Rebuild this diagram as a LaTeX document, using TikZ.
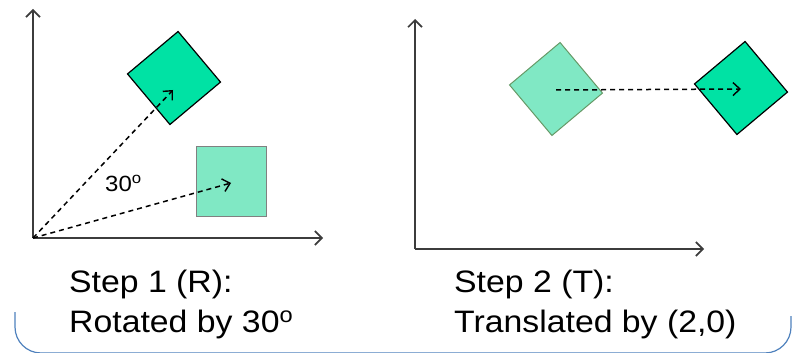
\documentclass[tikz,border=0pt]{standalone}
\usepackage{fontspec}
\setmainfont{Liberation Sans}
\usetikzlibrary{arrows.meta}

\definecolor{solidgreen}{RGB}{0,226,164}
\definecolor{palegreen}{RGB}{128,232,196}
\definecolor{axisgray}{RGB}{60,60,60}
\definecolor{frameblue}{RGB}{79,129,189}

% slightly widened lettering
\newcommand{\widetext}[1]{\scalebox{1.09}[1]{#1}}

\tikzset{
  axis/.style={draw=axisgray, line width=2pt, -{Straight Barb[length=7pt,width=14pt,line width=1.6pt]}},
  move/.style={draw=black, line width=1.5pt, dash pattern=on 5pt off 4pt,
               -{Straight Barb[length=7pt,width=13pt,line width=1.4pt]}},
  newpos/.style={draw=black, fill=solidgreen, line width=1.2pt, rectangle,
                 minimum size=66pt, inner sep=0pt, rotate=40},
  oldpos/.style={draw=gray, fill=palegreen, line width=1pt, rectangle,
                 minimum size=66pt, inner sep=0pt},
  caption/.style={anchor=base west, inner sep=0pt, font=\fontsize{31pt}{38pt}\selectfont},
}

\begin{document}
\begin{tikzpicture}[x=1pt, y=-1pt]
  \useasboundingbox (0,0) rectangle (793,353);

  % lower part of the rounded frame
  \draw[frameblue, line width=1.2pt, rounded corners=26pt]
    (15,312) -- (15,353) -- (791,353) -- (791,316);

  % ---- step 1: rotation ----
  \coordinate (o1) at (33,238);
  \coordinate (y1) at (33,9);
  \coordinate (x1) at (323,238);
  \draw[axis] (o1) -- (y1);
  \draw[axis] (o1) -- (x1);

  \node[oldpos, minimum size=70pt] (sq) at (231,181) {};
  \node[newpos] (rs) at (174,78) {};
  \coordinate (rtip) at (173,90);
  \coordinate (stip) at (231,183);

  \draw[move] (o1) -- (rtip);
  \draw[move] (o1) -- (stip);

  \node[anchor=base west, inner sep=0pt, font=\fontsize{22pt}{26pt}\selectfont]
    (ang) at (105,191) {\widetext{30\textsuperscript{o}}};

  \node[caption] (c1a) at (69,292) {\widetext{Step 1 (R):}};
  \node[caption] (c1b) at (69,332) {\widetext{Rotated by 30\textsuperscript{o}}};

  % ---- step 2: translation ----
  \coordinate (o2) at (415,249);
  \coordinate (y2) at (415,19);
  \coordinate (x2) at (704,249);
  \draw[axis] (o2) -- (y2);
  \draw[axis] (o2) -- (x2);

  \node[oldpos, rotate=40, draw=gray!80!green] (ld) at (556,89) {};
  \node[newpos] (dd) at (741,88) {};

  \draw[move] ([yshift=-1pt]ld.center) -- ([yshift=-1pt]dd.center);

  \node[caption] (c2a) at (454,292) {\widetext{Step 2 (T):}};
  \node[caption] (c2b) at (454,332) {\widetext{Translated by (2,0)}};
\end{tikzpicture}
\end{document}
